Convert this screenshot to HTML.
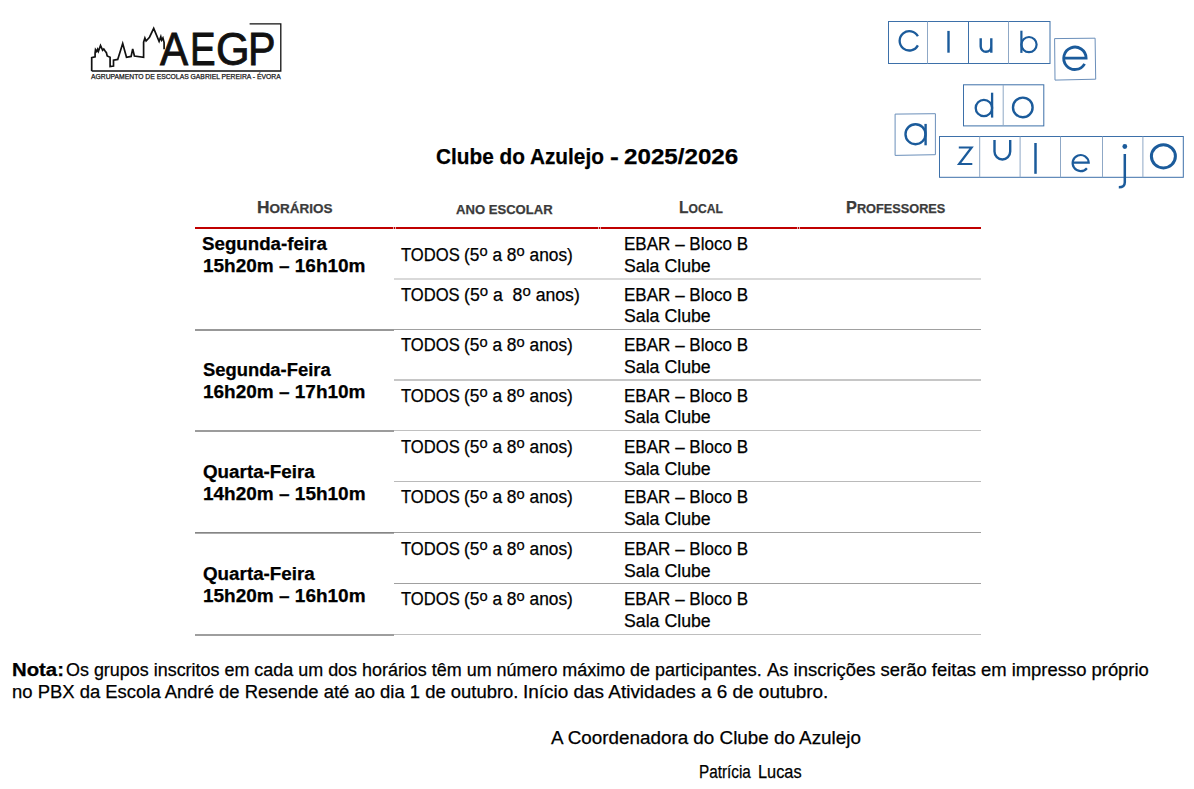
<!DOCTYPE html>
<html><head><meta charset="utf-8">
<style>
html,body{margin:0;padding:0;background:#fff;}
body{width:1194px;height:789px;position:relative;overflow:hidden;font-family:"Liberation Sans",sans-serif;color:#000;}
.t{position:absolute;white-space:nowrap;line-height:1;transform-origin:0 0;-webkit-text-stroke:0.25px currentColor;}
.b{font-weight:bold;}
.hl{position:absolute;height:1px;}
.hd{color:#3b3b3b;font-weight:bold;}
.sc{font-size:0.78em;}
.lg{color:#111;}
.o{font-size:0.85em;position:relative;top:-0.3em;}
</style></head>
<body>

<!-- AEGP logo -->
<svg style="position:absolute;left:0;top:0" width="300" height="90" viewBox="0 0 300 90">
<polyline fill="none" stroke="#111" stroke-width="1.7" stroke-linejoin="miter" points="91.7,71 91.7,57.7 95.1,56.9 95.1,52.7 95.5,49.7 96.7,51.5 97.6,49.3 98.4,51.4 100.5,45.5 102.6,50.2 103.8,49 105.1,51 106.4,52.7 107.2,56 110.1,57.3 110.1,66.5 113.5,66.1 113.5,60.2 117.7,59.4 118.5,56.9 122.7,43.5 126.5,57.3 131.1,56.4 132.7,48.9 134.4,56 143.6,57.3 143.6,42.2 144.9,38 146.1,41 149.5,37.2 153.7,28.4 159.1,41.4 160.8,36.7 161.6,40.1 162.9,38 164.1,42.6 164.1,49.3"/>
<polyline fill="none" stroke="#111" stroke-width="1.3" points="91.7,71 280.8,71 280.8,23.8 249.6,23.8"/>
</svg>
<!-- Clube do azulejo logo -->
<svg style="position:absolute;left:880px;top:10px" width="314" height="190" viewBox="880 10 314 190">
<g fill="none" stroke="#3d70a9" stroke-width="1">
<rect x="888.5" y="21.5" width="161.5" height="42"/>
<line x1="927.5" y1="21.5" x2="927.5" y2="63.5" stroke="#8fa8c6"/>
<line x1="968.5" y1="21.5" x2="968.5" y2="63.5"/>
<line x1="1008.5" y1="21.5" x2="1008.5" y2="63.5" stroke="#8fa8c6"/>
<polygon points="1054.6,38.6 1095.1,38.2 1095.7,79.2 1055,80.1" stroke="#6b8fba"/>
<rect x="963.5" y="84.8" width="80.3" height="41.1"/>
<line x1="1003.2" y1="84.8" x2="1003.2" y2="125.9" stroke="#8fa8c6"/>
<polygon points="895.1,114.1 935.4,113.7 935.4,154.7 895.1,155.4" stroke="#6b8fba"/>
<rect x="939.5" y="136.5" width="243.8" height="40.8"/>
<line x1="979.7" y1="136.5" x2="979.7" y2="177.3" stroke="#8fa8c6"/>
<line x1="1020.1" y1="136.5" x2="1020.1" y2="177.3" stroke="#8fa8c6"/>
<line x1="1060.5" y1="136.5" x2="1060.5" y2="177.3" stroke="#8fa8c6"/>
<line x1="1102.5" y1="136.5" x2="1102.5" y2="177.3" stroke="#8fa8c6"/>
<line x1="1142.9" y1="136.5" x2="1142.9" y2="177.3" stroke="#8fa8c6"/>
</g>
<g fill="none" stroke="#1b5b9b" stroke-width="2.2" stroke-linecap="butt">
<!-- C -->
<path d="M917.9,36.25 A9.7,9.7 0 1 0 917.9,45.35" stroke-width="2.3"/>
<!-- l -->
<path d="M948.5,30.9 V52.7" stroke-width="2.4"/>
<!-- u -->
<path d="M980.7,38.3 V46.5 A5.3,5.3 0 0 0 991.3,46.5 M991.3,38.3 V52.7" stroke-width="2.4"/>
<!-- b -->
<path d="M1021.4,30.7 V52.9"/>
<circle cx="1029" cy="44.6" r="7.6"/>
<!-- e big -->
<path d="M1063.6,58.1 H1086.1 A11.2,11.2 0 1 0 1084.6,63.9" stroke-width="2.8"/>
<!-- d -->
<circle cx="983.9" cy="108" r="8.2" stroke-width="2.3"/>
<path d="M992.1,92.7 V117.6" stroke-width="2.3"/>
<!-- o -->
<circle cx="1022.8" cy="107.4" r="9.8" stroke-width="2.4"/>
<!-- a -->
<circle cx="915.5" cy="134.2" r="10.0" stroke-width="2.4"/>
<path d="M925.6,123.9 V145.3" stroke-width="2.4"/>
<!-- z -->
<path d="M958.8,147.5 H971.6 L959.1,164 H972.3" stroke-linejoin="miter"/>
<!-- U -->
<path d="M994.5,140 V151.6 A7.85,7.85 0 0 0 1010.2,151.6 V140" stroke-width="2.4"/>
<!-- l -->
<path d="M1035.5,143 V173.8" stroke-width="2.5"/>
<!-- e small -->
<path d="M1072.6,162.6 H1088.7 A8.05,8.05 0 1 0 1086.9,168.2"/>
<!-- j -->
<path d="M1124.8,154 V182.2 Q1124.8,187.3 1118.8,187.3" stroke-width="2.5"/>
<!-- O -->
<ellipse cx="1163.4" cy="156.3" rx="12" ry="11.6" stroke-width="3"/>
</g>
<circle cx="1124.8" cy="146.5" r="2.4" fill="#1b5b9b"/>
</svg>
<div class="t b" id="ta" style="left:435.78px;top:145.71px;font-size:22.6px;transform:scaleX(0.9203);">Clube do Azulejo</div>
<div class="t b" id="tb" style="left:610.49px;top:145.71px;font-size:22.6px;transform:scaleX(1.1676);">-</div>
<div class="t b" id="tc" style="left:624.42px;top:145.71px;font-size:22.6px;transform:scaleX(1.0695);">2025/2026</div>
<div class="t hd" id="h1" style="left:257.17px;top:198.81px;font-size:16.5px;transform:scaleX(1.0489);">H<span class="sc">ORÁRIOS</span></div>
<div class="t hd" id="h2" style="left:455.98px;top:200.01px;font-size:16.5px;transform:scaleX(1.0168);"><span class="sc">ANO ESCOLAR</span></div>
<div class="t hd" id="h3" style="left:678.74px;top:198.71px;font-size:16.5px;transform:scaleX(0.9411);">L<span class="sc">OCAL</span></div>
<div class="t hd" id="h4" style="left:846.21px;top:198.81px;font-size:16.5px;transform:scaleX(0.9897);">P<span class="sc">ROFESSORES</span></div>
<div class="t b" id="l0" style="left:202.43px;top:234.60px;font-size:18px;transform:scaleX(1.0398);">Segunda-feira</div>
<div class="t b" id="l1" style="left:202.89px;top:256.50px;font-size:18px;transform:scaleX(1.0544);">15h20m – 16h10m</div>
<div class="t b" id="l2" style="left:202.55px;top:361.10px;font-size:18px;transform:scaleX(1.0207);">Segunda-Feira</div>
<div class="t b" id="l3" style="left:202.89px;top:382.50px;font-size:18px;transform:scaleX(1.0544);">16h20m – 17h10m</div>
<div class="t b" id="l4" style="left:203.04px;top:462.60px;font-size:18px;transform:scaleX(1.0444);">Quarta-Feira</div>
<div class="t b" id="l5" style="left:203.11px;top:484.50px;font-size:18px;transform:scaleX(1.0547);">14h20m – 15h10m</div>
<div class="t b" id="l6" style="left:203.04px;top:564.60px;font-size:18px;transform:scaleX(1.0444);">Quarta-Feira</div>
<div class="t b" id="l7" style="left:203.11px;top:586.50px;font-size:18px;transform:scaleX(1.0547);">15h20m – 16h10m</div>
<div class="t " id="c0" style="left:400.86px;top:245.90px;font-size:18px;transform:scaleX(0.9219);">TODOS</div>
<div class="t " id="d0" style="left:463.88px;top:245.91px;font-size:18px;transform:scaleX(0.9625);">(5<span class="o">o</span> a 8<span class="o">o</span> anos)</div>
<div class="t " id="c1" style="left:400.74px;top:285.81px;font-size:18px;transform:scaleX(0.9207);">TODOS</div>
<div class="t " id="d1" style="left:463.87px;top:285.81px;font-size:18px;transform:scaleX(0.9805);">(5<span class="o">o</span> a &nbsp;8<span class="o">o</span> anos)</div>
<div class="t " id="c2" style="left:400.86px;top:336.10px;font-size:18px;transform:scaleX(0.9219);">TODOS</div>
<div class="t " id="d2" style="left:463.88px;top:336.10px;font-size:18px;transform:scaleX(0.9625);">(5<span class="o">o</span> a 8<span class="o">o</span> anos)</div>
<div class="t " id="c3" style="left:400.86px;top:386.81px;font-size:18px;transform:scaleX(0.9219);">TODOS</div>
<div class="t " id="d3" style="left:463.88px;top:386.81px;font-size:18px;transform:scaleX(0.9625);">(5<span class="o">o</span> a 8<span class="o">o</span> anos)</div>
<div class="t " id="c4" style="left:400.86px;top:438.00px;font-size:18px;transform:scaleX(0.9219);">TODOS</div>
<div class="t " id="d4" style="left:463.88px;top:438.01px;font-size:18px;transform:scaleX(0.9625);">(5<span class="o">o</span> a 8<span class="o">o</span> anos)</div>
<div class="t " id="c5" style="left:400.86px;top:488.40px;font-size:18px;transform:scaleX(0.9219);">TODOS</div>
<div class="t " id="d5" style="left:463.88px;top:488.41px;font-size:18px;transform:scaleX(0.9625);">(5<span class="o">o</span> a 8<span class="o">o</span> anos)</div>
<div class="t " id="c6" style="left:400.86px;top:540.00px;font-size:18px;transform:scaleX(0.9219);">TODOS</div>
<div class="t " id="d6" style="left:463.88px;top:540.01px;font-size:18px;transform:scaleX(0.9625);">(5<span class="o">o</span> a 8<span class="o">o</span> anos)</div>
<div class="t " id="c7" style="left:400.86px;top:590.40px;font-size:18px;transform:scaleX(0.9219);">TODOS</div>
<div class="t " id="d7" style="left:463.88px;top:590.41px;font-size:18px;transform:scaleX(0.9625);">(5<span class="o">o</span> a 8<span class="o">o</span> anos)</div>
<div class="t " id="e0" style="left:623.99px;top:235.21px;font-size:18px;transform:scaleX(0.9467);">EBAR – Bloco B</div>
<div class="t " id="s0" style="left:624.42px;top:256.81px;font-size:18px;transform:scaleX(0.9846);">Sala Clube</div>
<div class="t " id="e1" style="left:623.99px;top:285.81px;font-size:18px;transform:scaleX(0.9467);">EBAR – Bloco B</div>
<div class="t " id="s1" style="left:624.42px;top:307.31px;font-size:18px;transform:scaleX(0.9846);">Sala Clube</div>
<div class="t " id="e2" style="left:623.99px;top:336.10px;font-size:18px;transform:scaleX(0.9467);">EBAR – Bloco B</div>
<div class="t " id="s2" style="left:624.42px;top:357.60px;font-size:18px;transform:scaleX(0.9846);">Sala Clube</div>
<div class="t " id="e3" style="left:623.99px;top:386.81px;font-size:18px;transform:scaleX(0.9467);">EBAR – Bloco B</div>
<div class="t " id="s3" style="left:624.42px;top:408.31px;font-size:18px;transform:scaleX(0.9846);">Sala Clube</div>
<div class="t " id="e4" style="left:623.99px;top:438.00px;font-size:18px;transform:scaleX(0.9467);">EBAR – Bloco B</div>
<div class="t " id="s4" style="left:624.42px;top:459.50px;font-size:18px;transform:scaleX(0.9846);">Sala Clube</div>
<div class="t " id="e5" style="left:623.99px;top:488.40px;font-size:18px;transform:scaleX(0.9467);">EBAR – Bloco B</div>
<div class="t " id="s5" style="left:624.42px;top:509.90px;font-size:18px;transform:scaleX(0.9846);">Sala Clube</div>
<div class="t " id="e6" style="left:623.99px;top:540.00px;font-size:18px;transform:scaleX(0.9467);">EBAR – Bloco B</div>
<div class="t " id="s6" style="left:624.42px;top:561.50px;font-size:18px;transform:scaleX(0.9846);">Sala Clube</div>
<div class="t " id="e7" style="left:623.99px;top:590.40px;font-size:18px;transform:scaleX(0.9467);">EBAR – Bloco B</div>
<div class="t " id="s7" style="left:624.42px;top:611.90px;font-size:18px;transform:scaleX(0.9846);">Sala Clube</div>
<div class="t b" id="n0" style="left:11.59px;top:660.82px;font-size:18px;transform:scaleX(1.1287);">Nota:</div>
<div class="t " id="n1a" style="left:66.25px;top:660.81px;font-size:18px;transform:scaleX(0.9963);">Os grupos inscritos em cada um dos horários têm um número máximo de participantes.</div>
<div class="t " id="n1b" style="left:767.36px;top:660.81px;font-size:18px;transform:scaleX(1.0233);">As inscrições serão feitas em impresso próprio</div>
<div class="t " id="n2" style="left:11.79px;top:682.60px;font-size:18px;transform:scaleX(1.0245);">no PBX da Escola André de Resende até ao dia 1 de outubro.</div>
<div class="t " id="n3" style="left:522.81px;top:682.60px;font-size:18px;transform:scaleX(1.0523);">Início das Atividades a 6 de outubro.</div>
<div class="t " id="sg1" style="left:550.93px;top:729.30px;font-size:18px;transform:scaleX(1.0461);">A Coordenadora do Clube do Azulejo</div>
<div class="t lg" id="aeA" style="left:159.52px;top:25.91px;font-size:46.8px;transform:scaleX(0.9025);-webkit-text-stroke:0.9px #111;">A</div>
<div class="t lg" id="aeE" style="left:189.54px;top:25.91px;font-size:46.8px;transform:scaleX(0.8195);-webkit-text-stroke:0.9px #111;">E</div>
<div class="t lg" id="aeG" style="left:215.51px;top:25.91px;font-size:46.8px;transform:scaleX(0.9233);-webkit-text-stroke:0.9px #111;">G</div>
<div class="t lg" id="aeP" style="left:248.11px;top:25.91px;font-size:46.8px;transform:scaleX(0.8823);-webkit-text-stroke:0.9px #111;">P</div>
<div class="t lg" id="agr" style="left:91.31px;top:73.90px;font-size:6.6px;transform:scaleX(1.0280);-webkit-text-stroke:0.25px #222;">AGRUPAMENTO DE ESCOLAS GABRIEL PEREIRA - ÉVORA</div>
<div class="t " id="sg2" style="left:698.79px;top:762.61px;font-size:18px;transform:scaleX(0.8491);">Patrícia</div>
<div class="t " id="sg3" style="left:758.43px;top:762.61px;font-size:18px;transform:scaleX(0.9074);">Lucas</div>
<!-- lines -->
<div class="hl" style="left:195px;top:227px;width:786px;height:2px;background:#c00000;"></div>
<div class="hl" style="left:393px;top:227px;width:1px;height:2px;background:#e4a4a4;"></div>
<div class="hl" style="left:395px;top:227px;width:1px;height:2px;background:#e4a4a4;"></div>
<div class="hl" style="left:598px;top:227px;width:1px;height:2px;background:#e4a4a4;"></div>
<div class="hl" style="left:600px;top:227px;width:1px;height:2px;background:#e4a4a4;"></div>
<div class="hl" style="left:797px;top:227px;width:1px;height:2px;background:#e4a4a4;"></div>
<div class="hl" style="left:799px;top:227px;width:1px;height:2px;background:#e4a4a4;"></div>
<!-- left column separators (dark, 2px) -->
<div class="hl" style="left:195px;top:329px;width:199px;height:2px;background:#989898;"></div>
<div class="hl" style="left:195px;top:430px;width:199px;height:2px;background:#9c9c9c;"></div>
<div class="hl" style="left:195px;top:532px;width:199px;height:1px;background:#858585;"></div>
<div class="hl" style="left:195px;top:533px;width:199px;height:1px;background:#ababab;"></div>
<div class="hl" style="left:195px;top:634px;width:199px;height:2px;background:#9e9e9e;"></div>
<!-- right separators -->
<div class="hl" style="left:394px;top:278px;width:587px;height:2px;background:#d9d9d9;"></div>
<div class="hl" style="left:394px;top:329px;width:587px;background:#a0a0a0;"></div>
<div class="hl" style="left:394px;top:379px;width:587px;height:2px;background:#c6c6c6;"></div>
<div class="hl" style="left:394px;top:430px;width:587px;background:#c0c0c0;"></div>
<div class="hl" style="left:394px;top:481px;width:587px;background:#bababa;"></div>
<div class="hl" style="left:394px;top:532px;width:587px;background:#9d9d9d;"></div>
<div class="hl" style="left:394px;top:583px;width:587px;background:#a0a0a0;"></div>
<div class="hl" style="left:394px;top:634px;width:587px;background:#bebebe;"></div>
</body></html>
